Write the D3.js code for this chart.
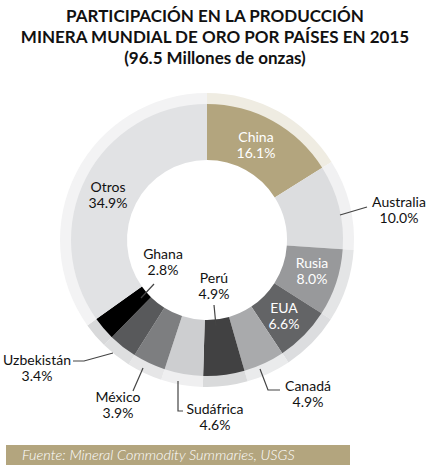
<!DOCTYPE html>
<html><head><meta charset="utf-8">
<script src="https://cdn.jsdelivr.net/npm/d3@7"></script>
<style>body{margin:0;background:#fff;font-family:Lato,"Noto Sans",sans-serif;}</style>
</head><body><div id="chart"></div>
<script>
var countries = ["China","Australia","Rusia","EUA","Canadá","Perú","Sudáfrica","México","Uzbekistán","Ghana","Otros"];
var shares = [16.1,10.0,8.0,6.6,4.9,4.9,4.6,3.9,3.4,2.8,34.9];
var colors = ["#b3a57e","#dcdddf","#98999b","#636466","#a9aaac","#414142","#cdced0","#7d7e80","#58595b","#000000","#e1e2e4"];
var bandColors = ["#efece2","#f1f1f2","#e4e5e6","#dcdddf","#eaebec","#d9dadb","#efeff0","#e6e6e7","#dedfe0","#d8d9da","#f3f3f4"];

var svgWidth = 431, svgHeight = 467;
var cx = 207, cy = 240;

var svg = d3.select("#chart").append("svg")
    .attr("width", svgWidth).attr("height", svgHeight);

svg.append("text").attr("x", 215).attr("text-anchor", "middle")
    .attr("font-weight", "bold").attr("font-size", 17).attr("fill", "#111")
    .selectAll("tspan")
    .data(["PARTICIPACIÓN EN LA PRODUCCIÓN", "MINERA MUNDIAL DE ORO POR PAÍSES EN 2015", "(96.5 Millones de onzas)"])
    .enter().append("tspan").attr("x", 215).attr("y", (d, i) => 22 + i * 21).text(d => d);

var pie = d3.pie().sort(null).value(d => d)(shares);
var g = svg.append("g").attr("transform", `translate(${cx},${cy})`);

var band = d3.arc().innerRadius(130).outerRadius(147);
var arc = d3.arc().innerRadius(80).outerRadius(136);

g.selectAll(".band").data(pie).enter().append("path")
    .attr("d", band).attr("fill", (d, i) => bandColors[i]);
g.selectAll(".slice").data(pie).enter().append("path")
    .attr("d", arc).attr("fill", (d, i) => colors[i]);

function fmt(i) { return shares[i].toFixed(1) + "%"; }

// label layout: [index, x, baseline y, fill, leader points]
var labels = [
  [0, 256, 142, "#fff", null],
  [2, 312, 268, "#fff", null],
  [3, 284, 313, "#fff", null],
  [10, 108, 192, "#111", null],
  [9, 163, 259, "#111", [[141, 298], [154, 284]]],
  [5, 214, 283, "#111", [[216, 326], [214, 305]]],
  [1, 399, 207, "#111", [[340, 215], [367, 207]]],
  [4, 308, 391, "#111", [[260, 369], [268, 390], [280, 390]]],
  [6, 215, 414, "#111", [[178, 381], [178, 411], [183, 411]]],
  [7, 118, 402, "#111", [[143, 368], [133, 391]]],
  [8, 37, 365, "#111", [[113, 353], [84, 361], [73, 361]]]
];

labels.forEach(function (d) {
  if (d[4]) svg.append("path").attr("d", d3.line()(d[4]))
      .attr("fill", "none").attr("stroke", "#444").attr("stroke-width", 1.2);
  var t = svg.append("text").attr("text-anchor", "middle").attr("fill", d[3]).attr("font-size", 14);
  t.append("tspan").attr("x", d[1]).attr("y", d[2]).text(countries[d[0]]);
  t.append("tspan").attr("x", d[1]).attr("y", d[2] + 16).text(fmt(d[0]));
});

svg.append("rect").attr("x", 6).attr("y", 445).attr("width", 344).attr("height", 20).attr("fill", "#b3a57e");
svg.append("text").attr("x", 22).attr("y", 460).attr("fill", "#fff").attr("font-style", "italic")
    .attr("font-weight", 300).attr("font-size", 14.5).text("Fuente: Mineral Commodity Summaries, USGS");
</script></body></html>
